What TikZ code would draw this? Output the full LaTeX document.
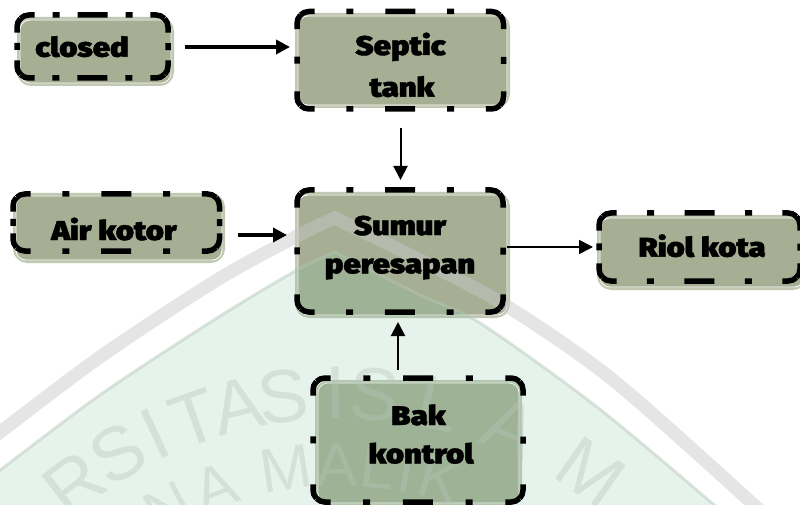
\documentclass[tikz,border=0pt]{standalone}
\usepackage{fontspec}
\newfontfamily\boxfont{Fira Sans Black}[FakeStretch=1.15, FakeBold=1.5]
\newfontfamily\wmfont{Liberation Sans}
\usetikzlibrary{arrows.meta,calc}

\definecolor{boxfill}{RGB}{166,174,148}
\definecolor{boxrim}{RGB}{194,200,178}
\definecolor{mintwash}{RGB}{130,195,160}
\definecolor{wmband}{RGB}{200,200,200}
\definecolor{wmglyph}{RGB}{181,198,185}

\tikzset{
  boxnode/.style={rectangle, rounded corners=13pt, fill=boxfill, draw=boxrim,
                  line width=2.5pt, inner sep=0pt},
  innerline/.style={draw=white, line width=0.7pt, rounded corners=10pt},
  dashside/.style={draw=black, line width=5.5pt, line cap=butt, dash phase=15pt},
  boxlabel/.style={font=\boxfont\fontsize{27}{31}\selectfont, text=black,
                   inner sep=0pt, anchor=base},
  thickarrow/.style={draw=black, line width=4.5pt, -{Triangle[length=14pt,width=14pt]}},
  thinarrow/.style={draw=black, line width=2pt, -{Triangle[length=14pt,width=14pt]}},
  wmletter/.style={font=\wmfont\fontsize{75}{75}\selectfont, text=wmglyph,
                   text opacity=0.38, inner sep=0pt},
  wmletterb/.style={font=\wmfont\fontsize{62}{62}\selectfont, text=wmglyph,
                   text opacity=0.38, inner sep=0pt},
}

\newcommand\frrad{12}
% dash-dot outline of a box: each side runs from corner middle to corner
% middle, with a long dash over every corner and the gaps evened out
\newcommand\frameof[5]{%
  \path ([shift={(#2,#3)}]#1.north west) coordinate (fnw)
        ([shift={(#4,#5)}]#1.south east) coordinate (fse);
  \pgfpointanchor{fnw}{center}\pgfgetlastxy{\frtx}{\frty}%
  \pgfpointanchor{fse}{center}\pgfgetlastxy{\frbx}{\frby}%
  \pgfmathsetmacro\frxa{\frtx}\pgfmathsetmacro\frxb{\frbx}%
  \pgfmathsetmacro\frya{\frby}\pgfmathsetmacro\fryb{\frty}%
  \pgfmathsetmacro\frsh{\frxb-\frxa-2*\frrad+\frrad*pi/2}%
  \pgfmathsetmacro\frsv{\fryb-\frya-2*\frrad+\frrad*pi/2}%
  \pgfmathsetmacro\frnh{max(1,round(\frsh/83))}%
  \pgfmathsetmacro\frnv{max(1,round(\frsv/83))}%
  \pgfmathsetmacro\frgh{(\frsh/\frnh-37)/2}%
  \pgfmathsetmacro\frgv{(\frsv/\frnv-37)/2}%
  \pgfmathsetmacro\frd{\frrad*cos(45)}%
  \draw[dashside, dash pattern=on 30pt off \frgh pt on 7pt off \frgh pt]
    ({\frxa+\frrad-\frd},{\fryb-\frrad+\frd}) arc[start angle=135,end angle=90,radius=\frrad]
    -- ({\frxb-\frrad},\fryb) arc[start angle=90,end angle=45,radius=\frrad];
  \draw[dashside, dash pattern=on 30pt off \frgv pt on 7pt off \frgv pt]
    ({\frxb-\frrad+\frd},{\fryb-\frrad+\frd}) arc[start angle=45,end angle=0,radius=\frrad]
    -- (\frxb,{\frya+\frrad}) arc[start angle=0,end angle=-45,radius=\frrad];
  \draw[dashside, dash pattern=on 30pt off \frgh pt on 7pt off \frgh pt]
    ({\frxb-\frrad+\frd},{\frya+\frrad-\frd}) arc[start angle=-45,end angle=-90,radius=\frrad]
    -- ({\frxa+\frrad},\frya) arc[start angle=-90,end angle=-135,radius=\frrad];
  \draw[dashside, dash pattern=on 30pt off \frgv pt on 7pt off \frgv pt]
    ({\frxa+\frrad-\frd},{\frya+\frrad-\frd}) arc[start angle=-135,end angle=-180,radius=\frrad]
    -- (\frxa,{\fryb-\frrad}) arc[start angle=180,end angle=135,radius=\frrad];
}
% thin white line just inside the rim of a box
\newcommand\innerof[1]{\draw[innerline] ([shift={(3,3)}]#1.south west) rectangle ([shift={(-3,-3)}]#1.north east);}

\begin{document}
\begin{tikzpicture}[x=1pt,y=1pt]
\useasboundingbox (0,0) rectangle (800,504);
\fill[white] (0,0) rectangle (800,504);

% ---- box bodies
\node[boxnode, minimum width=154.5pt, minimum height=66.5pt]  (closed) at (95.5,452.5) {};
\node[boxnode, minimum width=212.5pt, minimum height=92.5pt]  (septic) at (402.5,443.5) {};
\node[boxnode, minimum width=212.5pt, minimum height=123.5pt] (sumur)  at (402.5,249) {};
\node[boxnode, minimum width=209.5pt, minimum height=67.5pt]  (air)    at (119,276) {};
\node[boxnode, minimum width=207.5pt, minimum height=72.5pt]  (riol)   at (702,251.5) {};
\node[boxnode, minimum width=204.5pt, minimum height=123.5pt] (bak)    at (418.5,61) {};
\innerof{closed}\innerof{septic}\innerof{sumur}\innerof{air}\innerof{riol}\innerof{bak}

% ---- faint seal in the background
\fill[mintwash, fill opacity=0.2]
  plot[smooth] coordinates {(-10,26) (100,109) (217,186) (297,234) (335,252)}
  -- plot[smooth] coordinates {(335,252) (420,209) (480,181) (597,97) (713,0) (735,-21)}
  -- (735,-30) -- (-10,-30) -- cycle;
\draw[wmglyph, draw opacity=0.45, line width=3pt]
  plot[smooth] coordinates {(-10,26) (100,109) (217,186) (297,234) (335,252)}
  -- plot[smooth] coordinates {(335,252) (420,209) (480,181) (597,97) (713,0) (735,-21)};
\draw[wmband, draw opacity=0.47, line width=13pt, line join=miter]
  plot[smooth] coordinates {(-10,64) (100,147) (217,224) (297,268) (335,286)}
  -- plot[smooth] coordinates {(335,286) (420,244) (505,199) (613,124) (753,0) (775,-21)};
\coordinate (wmc) at (340,-326);
\foreach \ch/\ang [count=\i] in {R/127.5,S/120.5,I/115,T/109.5,A/103.5,S/97.5,I/90.5,S/85.5,L/77,A/67,M/55}
  \node[wmletter, rotate=\ang-90] (wmtop\i) at ($(wmc)+(\ang:437)$) {\ch};
\foreach \ch/\ang [count=\i] in {N/118,A/110,M/98.5,A/90.5,L/84,I/79.5,K/74}
  \node[wmletterb, rotate=\ang-90] (wmlow\i) at ($(wmc)+(\ang:365)$) {\ch};

% ---- dashed outlines
\frameof{closed}{0}{2}{-6}{8}
\frameof{septic}{2}{1.5}{-6.5}{-1}
\frameof{sumur}{2}{2}{-7}{6}
\frameof{air}{0}{-1}{-5.5}{12}
\frameof{riol}{2}{2}{-7}{9}
\frameof{bak}{-2}{2}{1}{4}

% ---- labels
\node[boxlabel] (closedtext)  at (82,447.3)    {closed};
\node[boxlabel] (septictext)  at (400.5,449)   {Septic};
\node[boxlabel] (tanktext)    at (402,407.3)   {tank};
\node[boxlabel] (sumurtext)   at (400,269)     {Sumur};
\node[boxlabel] (resaptext)   at (400,230.7)   {peresapan};
\node[boxlabel] (airtext)     at (114,264)     {Air kotor};
\node[boxlabel] (rioltext)    at (702,247.3)   {Riol kota};
\node[boxlabel] (baktext)     at (418.5,79)    {Bak};
\node[boxlabel] (kontroltext) at (421,40.7)    {kontrol};

% ---- connectors
\draw[thickarrow] ($(closed.east)+(11,4.5)$) -- ($(closed.east -| septic.west)+(-5,4.5)$);
\draw[thinarrow]  ($(septic.south)+(-2,-20)$) -- ($(sumur.north)+(-2,12)$);
\draw[thickarrow] ($(air.east)+(13,-7)$) -- ($(air.east -| sumur.west)+(-8,-7)$);
\draw[thinarrow, line width=1.6pt] ($(sumur.east)+(-3,8)$) -- ($(sumur.east -| riol.west)+(-4,8)$);
\draw[thinarrow]  ($(bak.north)+(-20.5,10)$) -- ($(bak.north |- sumur.south)+(-20.5,-4)$);
\end{tikzpicture}
\end{document}
